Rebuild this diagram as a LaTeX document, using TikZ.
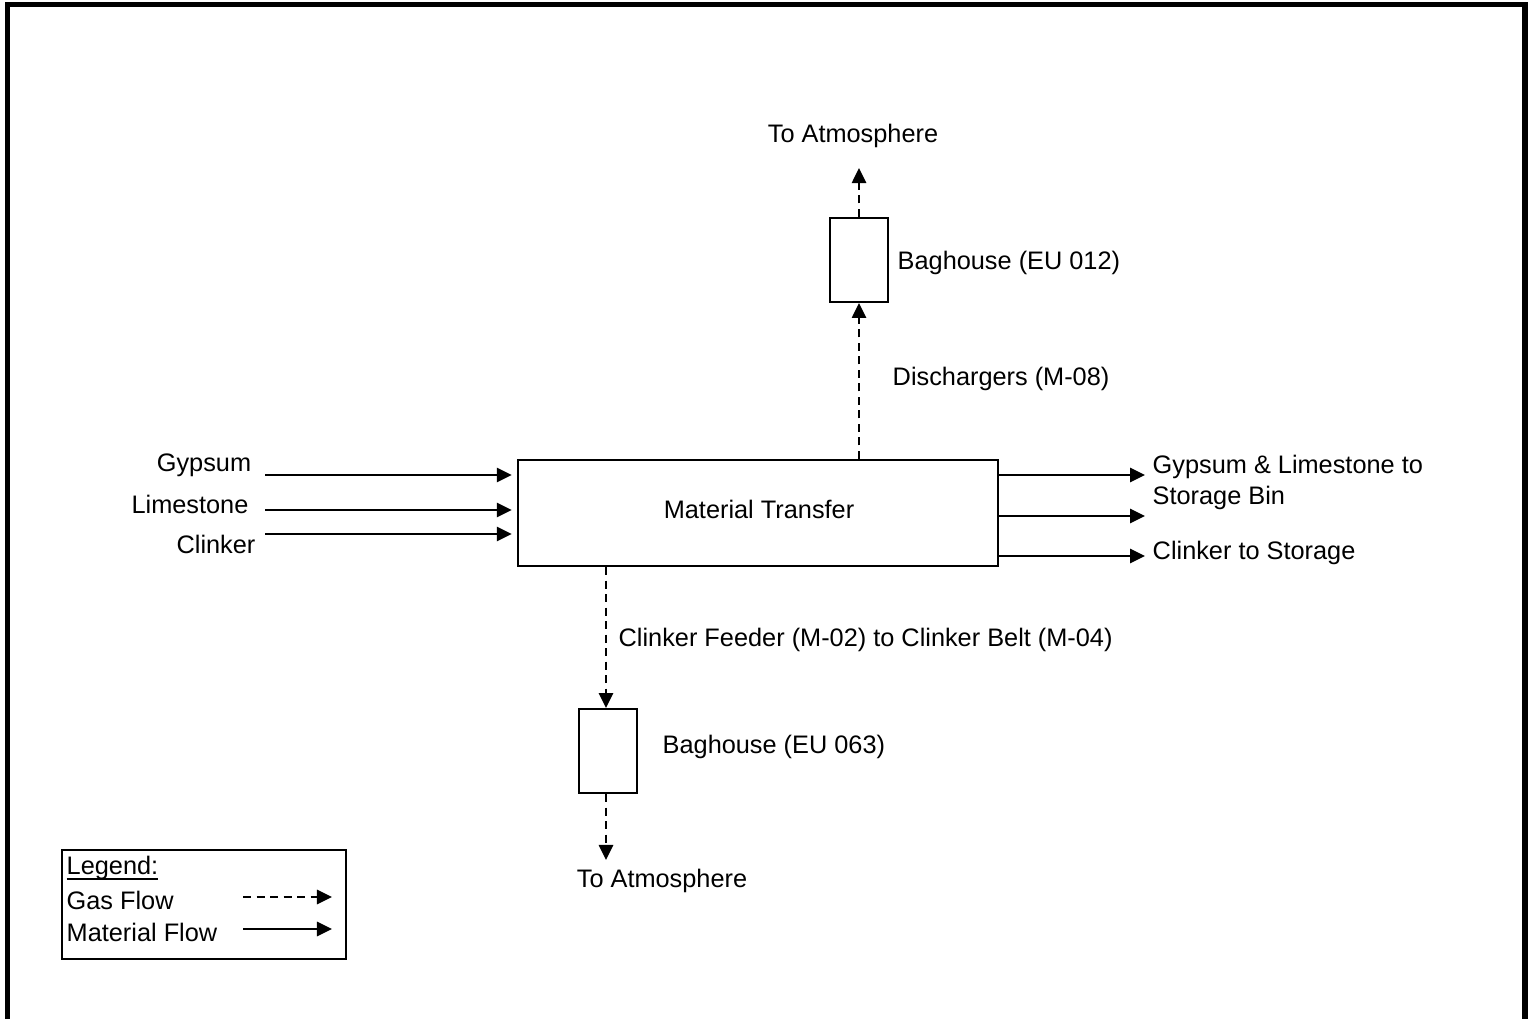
\documentclass[tikz,border=0pt]{standalone}
\usepackage{fontspec}
\setmainfont{Liberation Sans}
\usetikzlibrary{arrows.meta}

\tikzset{
  matflow/.style={line width=0.75pt, -{Triangle[length=1.5mm,width=1.4mm]}},
  gasflow/.style={matflow, dash pattern=on 0.8mm off 0.55mm},
  unitbox/.style={draw, line width=0.55pt, inner sep=0pt},
  lbl/.style={inner sep=0pt, anchor=west}
}

\begin{document}
\begin{tikzpicture}[x=0.01cm, y=-0.01cm, font=\fontsize{7.2}{8.8}\selectfont]
        \useasboundingbox (0,0) rectangle (1528,1019);
        \draw[line width=1.7pt] (7.5,1019) -- (7.5,4.5) -- (1525,4.5) -- (1525,1019);

        % main unit
        \node (mt) [unitbox, minimum width=4.8cm, minimum height=1.06cm] at (758,513) {};
        \node at (759,509) {Material Transfer};

        % inputs
        \node (gyp) at (204,465) {Gypsum};
        \node (lime) at (190,504) {Limestone};
        \node (clk) at (216,544) {Clinker};
        \coordinate (gypin) at (265,475);
        \coordinate (limein) at (265,510);
        \coordinate (clkin) at (265,534);
        \draw[matflow, shorten >=0.05cm] (gypin) -- (gypin -| mt.west);
        \draw[matflow, shorten >=0.05cm] (limein) -- (limein -| mt.west);
        \draw[matflow, shorten >=0.05cm] (clkin) -- (clkin -| mt.west);

        % outputs
        \coordinate (gsout) at (1145,475);
        \coordinate (lsout) at (1145,516);
        \coordinate (clkout) at (1145,556);
        \draw[matflow] (gsout -| mt.east) -- (gsout);
        \draw[matflow] (lsout -| mt.east) -- (lsout);
        \draw[matflow] (clkout -| mt.east) -- (clkout);
        \node (gsbin) [lbl, align=left] at (1152,482) {Gypsum \& Limestone to\\Storage Bin};
        \node (clkst) [lbl] at (1152,553) {Clinker to Storage};

        % baghouse EU 012
        \node (bhtop) [unitbox, minimum width=0.58cm, minimum height=0.84cm] at (859,260) {};
        \node [lbl] at (897,263) {Baghouse (EU 012)};
        \node [lbl] at (892,379) {Dischargers (M-08)};
        \draw[gasflow] (mt.north -| bhtop) -- (bhtop.south);
        \coordinate (atmtop) at (859,168);
        \draw[gasflow] (bhtop.north) -- (atmtop);
        \node (toatm1) at (853,136) {To Atmosphere};

        % baghouse EU 063
        \node (bhbot) [unitbox, minimum width=0.58cm, minimum height=0.84cm] at (608,751) {};
        \node [lbl] at (662,747) {Baghouse (EU 063)};
        \node [lbl] at (618,640) {Clinker Feeder (M-02) to Clinker Belt (M-04)};
        \draw[gasflow] (mt.south -| 606,0) -- (606,0 |- bhbot.north);
        \coordinate (atmbot) at (606,860);
        \draw[gasflow] (606,0 |- bhbot.south) -- (atmbot);
        \node (toatm2) at (662,881) {To Atmosphere};

        % legend
        \node (legend) [unitbox, minimum width=2.84cm, minimum height=1.09cm] at (204,904.5) {};
        \node [inner sep=0pt, anchor=base west] at (66,874) {\underline{\smash{Legend:}}};
        \node [lbl] at (66,900) {Gas Flow};
        \node [lbl] at (66,932) {Material Flow};
        \coordinate (gasa) at (243,897);
        \coordinate (gasb) at (332,897);
        \coordinate (mata) at (243,929);
        \coordinate (matb) at (332,929);
        \draw[gasflow] (gasa) -- (gasb);
        \draw[matflow] (mata) -- (matb);
\end{tikzpicture}
\end{document}
